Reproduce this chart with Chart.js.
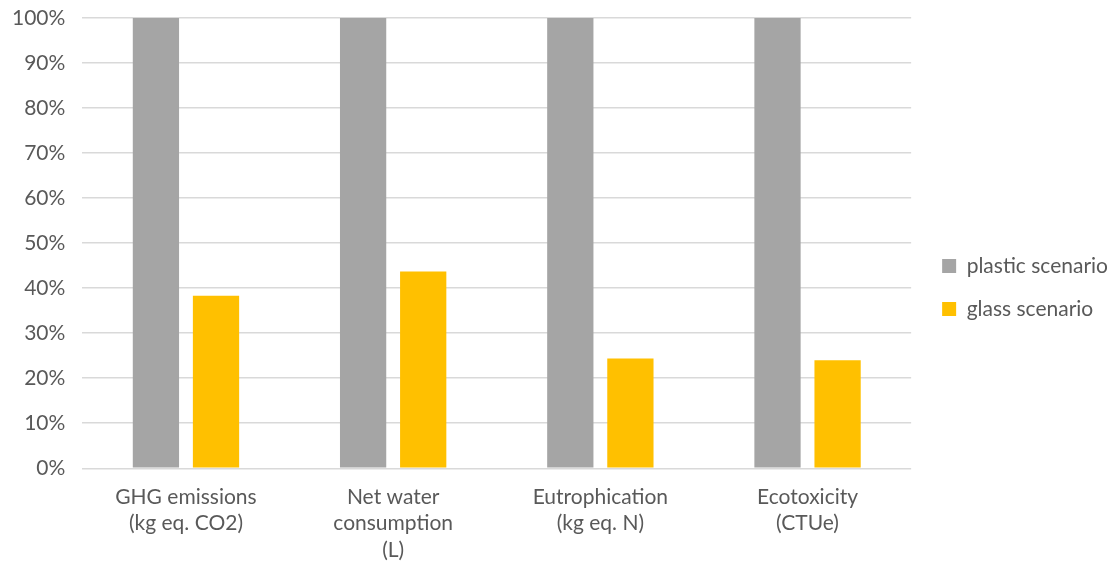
<!DOCTYPE html>
<html>
<head>
<meta charset="utf-8">
<script src="https://cdn.jsdelivr.net/npm/chart.js@4"></script>
<style>
  html, body { margin: 0; padding: 0; background: #fff; }
  #wrap { width: 1111px; height: 566px; }
</style>
</head>
<body>
<div id="wrap"><canvas id="chart"></canvas></div>
<script>
const categories = [
    ["GHG emissions", "(kg eq. CO2)"],
    ["Net water", "consumption", "(L)"],
    ["Eutrophication", "(kg eq. N)"],
    ["Ecotoxicity", "(CTUe)"],
];
const plasticValues = [100, 100, 100, 100];
const glassValues = [38.3, 43.7, 24.4, 24.0];
const seriesNames = ["plastic scenario", "glass scenario"];

const textColor = "#595959";
const fontFamily = "Lato, 'Open Sans', sans-serif";

// nudge the legend a bit (right and up), the plot area stays where it is
const legendShift = {
    id: "legendShift",
    afterLayout(chart) {
        chart.legend.left += 9;
        chart.legend.right += 9;
        chart.legend.top -= 7;
        chart.legend.bottom -= 7;
    },
};

new Chart(document.getElementById("chart"), {
    type: "bar",
    data: {
        labels: categories,
        datasets: [
            {
                label: seriesNames[0],
                data: plasticValues,
                backgroundColor: "#A5A5A5",
                categoryPercentage: 0.58,
                barPercentage: 0.77,
            },
            {
                label: seriesNames[1],
                data: glassValues,
                backgroundColor: "#FFC000",
                categoryPercentage: 0.58,
                barPercentage: 0.77,
            },
        ],
    },
    options: {
        responsive: true,
        maintainAspectRatio: false,
        animation: false,
        layout: {
            padding: { top: 18, right: 2, bottom: -5, left: 12 },
        },
        plugins: {
            legend: {
                position: "right",
                labels: {
                    boxWidth: 14,
                    boxHeight: 14,
                    padding: 22,
                    color: textColor,
                    font: { family: fontFamily, size: 21 },
                },
            },
            tooltip: { enabled: false },
        },
        scales: {
            x: {
                grid: { display: false },
                border: { display: false },
                ticks: {
                    color: textColor,
                    font: { family: fontFamily, size: 21, lineHeight: 1.25 },
                    padding: 8,
                    maxRotation: 0,
                },
            },
            y: {
                min: 0,
                max: 100,
                border: { display: false },
                grid: {
                    color: "#D9D9D9",
                    lineWidth: 1.5,
                    drawTicks: true,
                    tickLength: 17,
                    tickColor: "rgba(0,0,0,0)",
                },
                ticks: {
                    stepSize: 10,
                    color: textColor,
                    font: { family: fontFamily, size: 21 },
                    padding: 0,
                    callback: (v) => v + "%",
                },
            },
        },
    },
    plugins: [legendShift],
});
</script>
</body>
</html>
